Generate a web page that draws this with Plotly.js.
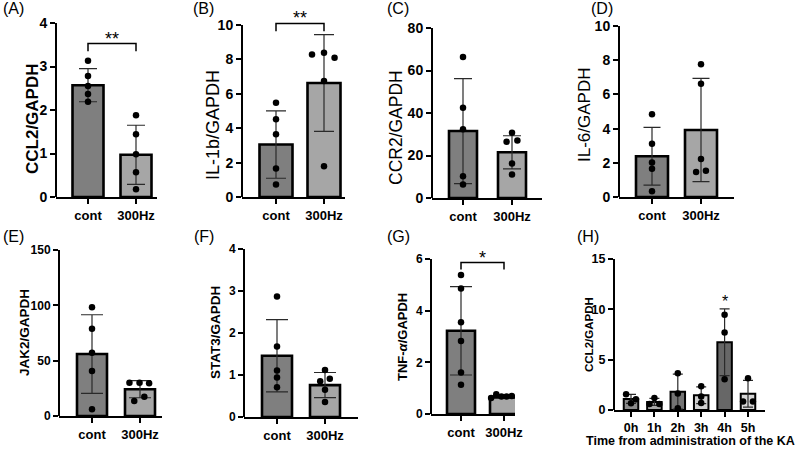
<!DOCTYPE html>
<html><head><meta charset="utf-8">
<script src="https://cdn.plot.ly/plotly-3.0.1.min.js"></script>
<style>html,body{margin:0;padding:0;background:#fff}#chart{width:795px;height:449px}</style>
</head><body><div id="chart"></div>
<script>
// ---------------- data ----------------
const groups = ['cont', '300Hz'];
const hours = ['0h', '1h', '2h', '3h', '4h', '5h'];

const ccl2Mean = [2.57, 0.97];
const ccl2SD = [0.38, 0.68];
const ccl2Cont = [3.13, 2.78, 2.55, 2.37, 2.19];
const ccl2Hz = [1.88, 1.44, 0.98, 0.57, 0.18];

const il1bMean = [3.05, 6.63];
const il1bSD = [1.96, 2.81];
const il1bCont = [5.48, 4.52, 3.65, 1.65, 0.72];
const il1bHz = [8.29, 8.39, 8.10, 6.74, 1.79];

const ccr2Mean = [31.5, 21.5];
const ccr2SD = [24.7, 7.8];
const ccr2Cont = [66.4, 42.5, 32.3, 10.2, 6.4];
const ccr2Hz = [30.7, 26.5, 27.0, 16.2, 11.1];

const il6Mean = [2.38, 3.92];
const il6SD = [1.69, 3.02];
const il6Cont = [4.84, 3.11, 2.02, 1.65, 0.33];
const il6Hz = [7.76, 6.63, 2.22, 1.46, 1.54];

const jak2Mean = [56.0, 24.2];
const jak2SD = [35.5, 7.7];
const jak2Cont = [98.2, 78.9, 57.2, 40.7, 6.0];
const jak2Hz = [30.1, 30.1, 29.5, 13.6, 17.5];

const stat3Mean = [1.46, 0.76];
const stat3SD = [0.86, 0.30];
const stat3Cont = [2.87, 1.68, 1.11, 0.94, 0.71];
const stat3Hz = [1.12, 0.85, 0.91, 0.65, 0.36];

const tnfMean = [3.22, 0.66];
const tnfSD = [1.71, 0.06];
const tnfCont = [5.38, 4.86, 3.55, 2.83, 1.61, 1.13];
const tnfHz = [0.62, 0.76, 0.68, 0.68, 0.70, 0.78];

const kaMean = [1.10, 0.80, 1.82, 1.47, 6.73, 1.62];
const kaSD = [0.45, 0.35, 1.74, 0.83, 3.31, 1.33];
const ka0h = [1.56, 0.68, 1.06];
const ka1h = [0.60, 1.20, 0.60];
const ka2h = [3.64, 1.65, 0.17];
const ka3h = [2.35, 1.35, 0.70];
const ka4h = [9.45, 7.70, 3.05];
const ka5h = [0.85, 3.15, 0.85];

// ---------------- panels ----------------
const panels = [
  {label:'(A)', title:'CCL2/GAPDH', cats:groups, mean:ccl2Mean, sd:ccl2SD, pts:[ccl2Cont, ccl2Hz], yTop:4, dtick:1, sig:'**'},
  {label:'(B)', title:'IL-1b/GAPDH', cats:groups, mean:il1bMean, sd:il1bSD, pts:[il1bCont, il1bHz], yTop:10, dtick:2, sig:'**'},
  {label:'(C)', title:'CCR2/GAPDH', cats:groups, mean:ccr2Mean, sd:ccr2SD, pts:[ccr2Cont, ccr2Hz], yTop:80, dtick:20},
  {label:'(D)', title:'IL-6/GAPDH', cats:groups, mean:il6Mean, sd:il6SD, pts:[il6Cont, il6Hz], yTop:10, dtick:2},
  {label:'(E)', title:'JAK2/GAPDH', cats:groups, mean:jak2Mean, sd:jak2SD, pts:[jak2Cont, jak2Hz], yTop:150, dtick:50},
  {label:'(F)', title:'STAT3/GAPDH', cats:groups, mean:stat3Mean, sd:stat3SD, pts:[stat3Cont, stat3Hz], yTop:4, dtick:1},
  {label:'(G)', title:'TNF-<i>α</i>/GAPDH', cats:groups, mean:tnfMean, sd:tnfSD, pts:[tnfCont, tnfHz], yTop:6, dtick:2, sig:'*'},
  {label:'(H)', title:'CCL2/GAPDH', cats:hours, mean:kaMean, sd:kaSD, pts:[ka0h, ka1h, ka2h, ka3h, ka4h, ka5h], yTop:15, dtick:5, star:{at:4, text:'*'},
   xTitle:'Time from administration of the KA'}
];

// ---------------- geometry / style (pixels) ----------------
const W = 795, H = 449;
const FONT = 'Liberation Sans, Arial, sans-serif';
const two = ['#7f7f7f', '#a6a6a6'];
const geom = [
  {x0:56, x1:157, c0:88, c1:136, yZero:197, yTopPx:23, ext:1.0, bar:31, cap:9, fills:two, tf:13, ytf:14,
   title:{x:33, y:119, size:17, w:'bold'}, lab:{x:1, y:9}, sigGap:0.10, starShift:4,
   jit:[[0,0,0,0,0],[0,0,0,0,0]]},
  {x0:242, x1:345, c0:276, c1:324, yZero:197, yTopPx:25, ext:1.07, bar:33, cap:10, fills:two, tf:13, ytf:14,
   title:{x:213, y:125, size:18, w:'normal'}, lab:{x:191, y:9}, sigGap:0.065, starShift:5,
   jit:[[0,0,0,0,0],[-0.25,0,0.22,0,0]]},
  {x0:432, x1:542, c0:463, c1:512, yZero:198, yTopPx:28, ext:1.0, bar:28, cap:9, fills:two, tf:13, ytf:14,
   title:{x:396, y:128, size:17.5, w:'normal'}, lab:{x:385, y:9},
   jit:[[0,0,0,0,0],[0,-0.11,0.11,0,0]]},
  {x0:619, x1:734, c0:652, c1:701, yZero:197, yTopPx:26, ext:1.0, bar:32, cap:8.5, fills:two, tf:13, ytf:14,
   title:{x:584, y:115, size:17, w:'normal'}, lab:{x:589, y:8.5},
   jit:[[0,0,0,0,0],[0,0,0,-0.1,0.1]]},
  {x0:59, x1:162, c0:92, c1:140, yZero:416, yTopPx:250, ext:1.0, bar:30, cap:11, fills:two, tf:13, ytf:12,
   title:{x:24, y:333, size:13.5, w:'bold'}, lab:{x:1, y:237},
   jit:[[0,0,0,0,0],[-0.22,-0.01,0.19,-0.12,0.09]]},
  {x0:244, x1:358, c0:277, c1:325, yZero:417, yTopPx:249, ext:1.0, bar:30, cap:11, fills:two, tf:13, ytf:12,
   title:{x:215, y:333, size:13.5, w:'bold'}, lab:{x:192, y:237},
   jit:[[0,0,0,0,0],[0,-0.1,0.1,0,0]]},
  {x0:431, x1:515, c0:461, c1:504, yZero:414, yTopPx:259, ext:1.0, bar:28, cap:11, fills:two, tf:13, ytf:12,
   title:{x:402, y:337, size:13, w:'bold'}, lab:{x:385, y:237}, sigGap:0.08, starShift:5,
   jit:[[0,0,0,0,0,0],[-0.3,-0.18,-0.06,0.06,0.18,0.3]]},
  {x0:614, x1:765, c0:631, c1:748, yZero:410, yTopPx:259, ext:1.0, bar:14.5, cap:5, tf:12.5, ytf:12.5,
   fills:['#8a8a8a','#a8a8a8','#737373','#d0d0d0','#676767','#d6d6d6'],
   title:{x:589, y:335, size:11.5, w:'bold'}, lab:{x:575, y:237}, starShift:7,
   xTitle:{x:690, y:441, size:12.5},
   jit:[[-0.21,0,0.21],[-0.21,0,0.21],[0,0,0],[0,0,0],[0,0,0],[-0.21,0,0.21]]}
];

const data = [], shapes = [], annotations = [];
const layout = {
  width: W, height: H, margin: {l:0, r:0, t:0, b:0},
  paper_bgcolor: '#ffffff', plot_bgcolor: 'rgba(0,0,0,0)', showlegend: false,
  font: {family: FONT, color: '#000'}, shapes, annotations
};

panels.forEach((p, k) => {
  const g = geom[k];
  const sfx = k === 0 ? '' : String(k + 1);
  const xr = 'x' + sfx, yr = 'y' + sfx;
  const n = p.cats.length;
  const idx = p.cats.map((_, j) => j);
  const sp = (g.c1 - g.c0) / (n - 1);
  const r0 = -(g.c0 - g.x0) / sp, r1 = (n - 1) + (g.x1 - g.c1) / sp;
  const yMax = p.yTop * g.ext;
  const ppu = (g.yZero - g.yTopPx) / p.yTop;
  const domTopPx = g.yZero - ppu * yMax;
  const yt = [];
  for (let v = 0; v <= p.yTop + 1e-9; v += p.dtick) yt.push(+v.toFixed(6));

  layout['xaxis' + sfx] = {
    domain: [g.x0 / W, g.x1 / W], range: [r0, r1], anchor: yr,
    showline: true, linecolor: '#000', linewidth: 2,
    ticks: 'outside', ticklen: 5, tickwidth: 2, tickcolor: '#000',
    tickvals: idx, ticktext: p.cats, tickfont: {size: g.tf, weight: 'bold', color:'#000'},
    showgrid: false, zeroline: false, fixedrange: true
  };
  layout['yaxis' + sfx] = {
    domain: [1 - g.yZero / H, 1 - domTopPx / H], range: [0, yMax], anchor: xr,
    showline: false, ticks: 'outside', ticklen: 5, tickwidth: 2, tickcolor: '#000',
    tickvals: yt, ticktext: yt.map(String), tickfont: {size: g.ytf, weight: 'bold', color:'#000'},
    showgrid: false, zeroline: false, fixedrange: true
  };
  // y axis line from 0 to top tick
  shapes.push({type:'line', xref:'paper', yref:yr, x0:g.x0 / W, x1:g.x0 / W, y0:0, y1:p.yTop,
               line:{color:'#000', width:2}, layer:'above'});

  // bars with SD error bars
  data.push({
    type:'bar', x: idx, y: p.mean, xaxis: xr, yaxis: yr, width: g.bar / sp,
    marker: {color: g.fills, line: {color:'#000', width: n > 2 ? 2 : 2.6}},
    error_y: {type:'data', array: p.sd, visible:true, color:'#2a2a2a', thickness:1.2, width:g.cap},
    hoverinfo:'skip'
  });
  // individual points
  const px = [], py = [];
  p.pts.forEach((arr, j) => arr.forEach((v, m) => { px.push(j + (g.jit[j][m] || 0)); py.push(v); }));
  data.push({
    type:'scatter', mode:'markers', x: px, y: py, xaxis: xr, yaxis: yr,
    marker: {color:'#000', size: 6.5}, cliponaxis:false, hoverinfo:'skip'
  });

  // significance bracket
  if (p.sig) {
    let top = 0;
    p.mean.forEach((m, j) => { top = Math.max(top, m + p.sd[j]); });
    p.pts.forEach(arr => arr.forEach(v => { top = Math.max(top, v); }));
    const sy = top + g.sigGap * p.yTop;
    const arm = 0.045 * p.yTop;
    shapes.push({type:'path', xref:xr, yref:yr,
      path:`M 0,${sy - arm} L 0,${sy} L 1,${sy} L 1,${sy - arm}`,
      line:{color:'#000', width:1.5}});
    annotations.push({xref:xr, yref:yr, x:0.5, y:sy, text:p.sig, showarrow:false,
      yanchor:'middle', yshift:g.starShift, font:{size:18, color:'#000'}});
  }
  if (p.star) {
    const j = p.star.at;
    annotations.push({xref:xr, yref:yr, x:j, y:p.mean[j] + p.sd[j], text:p.star.text, showarrow:false,
      yanchor:'middle', yshift:g.starShift, font:{size:16, color:'#000'}});
  }
  // y title
  annotations.push({xref:'paper', yref:'paper', x:g.title.x / W, y:1 - g.title.y / H,
    text:p.title, textangle:-90, showarrow:false, xanchor:'center', yanchor:'middle',
    font:{size:g.title.size, weight:g.title.w, color:'#000'}});
  // panel label
  annotations.push({xref:'paper', yref:'paper', x:g.lab.x / W, y:1 - g.lab.y / H,
    text:p.label, showarrow:false, xanchor:'left', yanchor:'middle',
    font:{size:16, color:'#000'}});
  if (p.xTitle) {
    annotations.push({xref:'paper', yref:'paper', x:g.xTitle.x / W, y:1 - g.xTitle.y / H,
      text:p.xTitle, showarrow:false, xanchor:'center', yanchor:'middle',
      font:{size:g.xTitle.size, weight:'bold', color:'#000'}});
  }
});

Plotly.newPlot('chart', data, layout, {displayModeBar:false, staticPlot:true});
</script>
</body></html>
